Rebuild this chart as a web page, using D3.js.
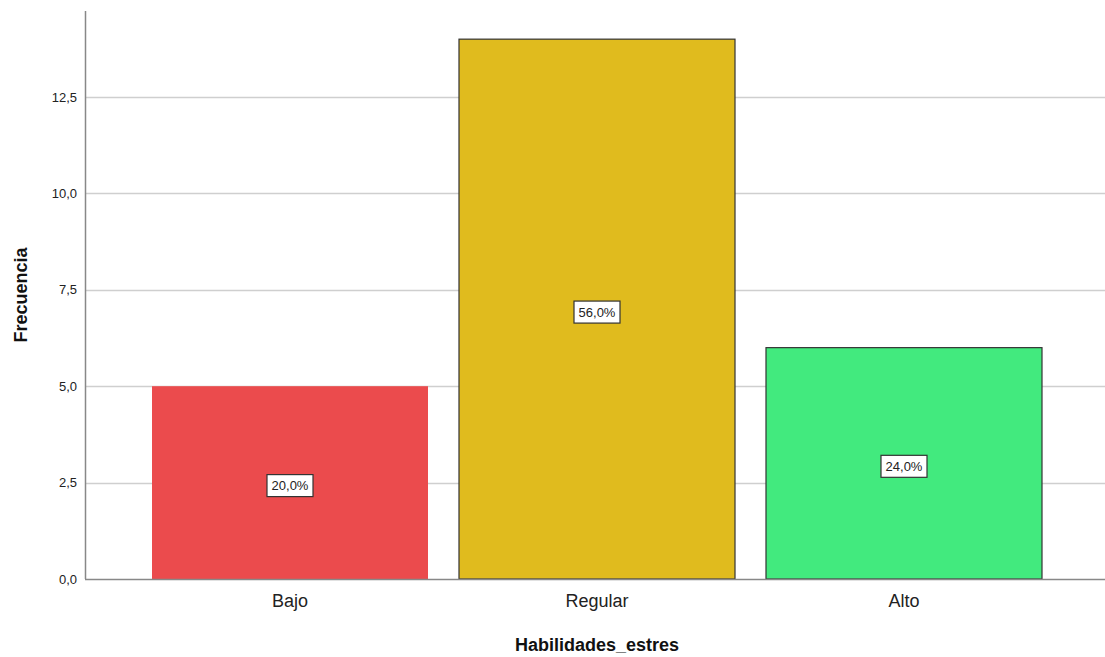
<!DOCTYPE html>
<html><head><meta charset="utf-8">
<script src="https://cdn.jsdelivr.net/npm/d3@7/dist/d3.min.js"></script>
<style>body{margin:0;background:#fff}svg{display:block;font-family:Arial,"Liberation Sans",sans-serif}</style>
</head><body>
<script>
const categories = ["Bajo", "Regular", "Alto"];
const frequencies = [5, 14, 6];
const percentLabels = ["20,0%", "56,0%", "24,0%"];
const barColors = ["#EB4B4D", "#E0BB1E", "#42EA7E"];
const barStrokes = ["none", "#333333", "#333333"];
const yTicks = [0, 2.5, 5, 7.5, 10, 12.5];

const W = 1105, H = 657;
const svg = d3.select("body").append("svg").attr("width", W).attr("height", H);
const x0 = 85, x1 = 1105, yBase = 579;
const y = d3.scaleLinear().domain([0, 12.5]).range([yBase, 97]);
const x = d3.scaleBand().domain(categories).range([136.5, 1057.5]).paddingInner(31/307).paddingOuter(31/307/2);

// gridlines
svg.append("g").selectAll("line").data(yTicks.filter(d => d > 0)).join("line")
  .attr("x1", x0).attr("x2", x1).attr("y1", d => Math.round(y(d)) + 0.5).attr("y2", d => Math.round(y(d)) + 0.5)
  .attr("stroke", "#cfcfcf").attr("stroke-width", 1.5);

// bars
svg.append("g").selectAll("rect").data(categories).join("rect")
  .attr("x", d => x(d)).attr("width", x.bandwidth())
  .attr("y", (d, i) => y(frequencies[i])).attr("height", (d, i) => yBase - y(frequencies[i]))
  .attr("fill", (d, i) => barColors[i])
  .attr("stroke", (d, i) => barStrokes[i]).attr("stroke-width", 1.2);

// axes
const yAxis = d3.axisLeft(y).tickValues(yTicks).tickSize(0).tickPadding(8)
  .tickFormat(d => d3.format(".1f")(d).replace(".", ","));
const gy = svg.append("g").attr("transform", `translate(${x0},0)`).call(yAxis);
gy.select(".domain").remove();
gy.selectAll("text").attr("font-size", 13).attr("fill", "#222");
svg.append("line").attr("x1", x0 + 0.5).attr("x2", x0 + 0.5).attr("y1", 11).attr("y2", yBase)
  .attr("stroke", "#888").attr("stroke-width", 1.5);

const xAxis = d3.axisBottom(x).tickSize(0).tickPadding(15);
const gx = svg.append("g").attr("transform", `translate(0,${yBase})`).call(xAxis);
gx.select(".domain").remove();
gx.selectAll("text").attr("font-size", 18).attr("fill", "#222");
svg.append("line").attr("x1", x0).attr("x2", x1).attr("y1", yBase + 0.5).attr("y2", yBase + 0.5)
  .attr("stroke", "#888").attr("stroke-width", 1.5);

// percent labels
const lab = svg.append("g").selectAll("g").data(categories).join("g")
  .attr("transform", (d, i) => `translate(${x(d) + x.bandwidth()/2},${y(frequencies[i]/2) + 3})`);
lab.append("rect").attr("x", -23).attr("y", -11).attr("width", 46).attr("height", 22)
  .attr("fill", "#fff").attr("stroke", "#333").attr("stroke-width", 1.2);
lab.append("text").attr("text-anchor", "middle").attr("dy", "0.35em").attr("font-size", 13)
  .attr("fill", "#222").text((d, i) => percentLabels[i]);

// axis titles
svg.append("text").attr("x", 597).attr("y", 651).attr("text-anchor", "middle")
  .attr("font-size", 18).attr("font-weight", "bold").attr("fill", "#111").text("Habilidades_estres");
svg.append("text").attr("transform", "translate(27,295) rotate(-90)").attr("text-anchor", "middle")
  .attr("font-size", 18).attr("font-weight", "bold").attr("fill", "#111").text("Frecuencia");
</script>
</body></html>
